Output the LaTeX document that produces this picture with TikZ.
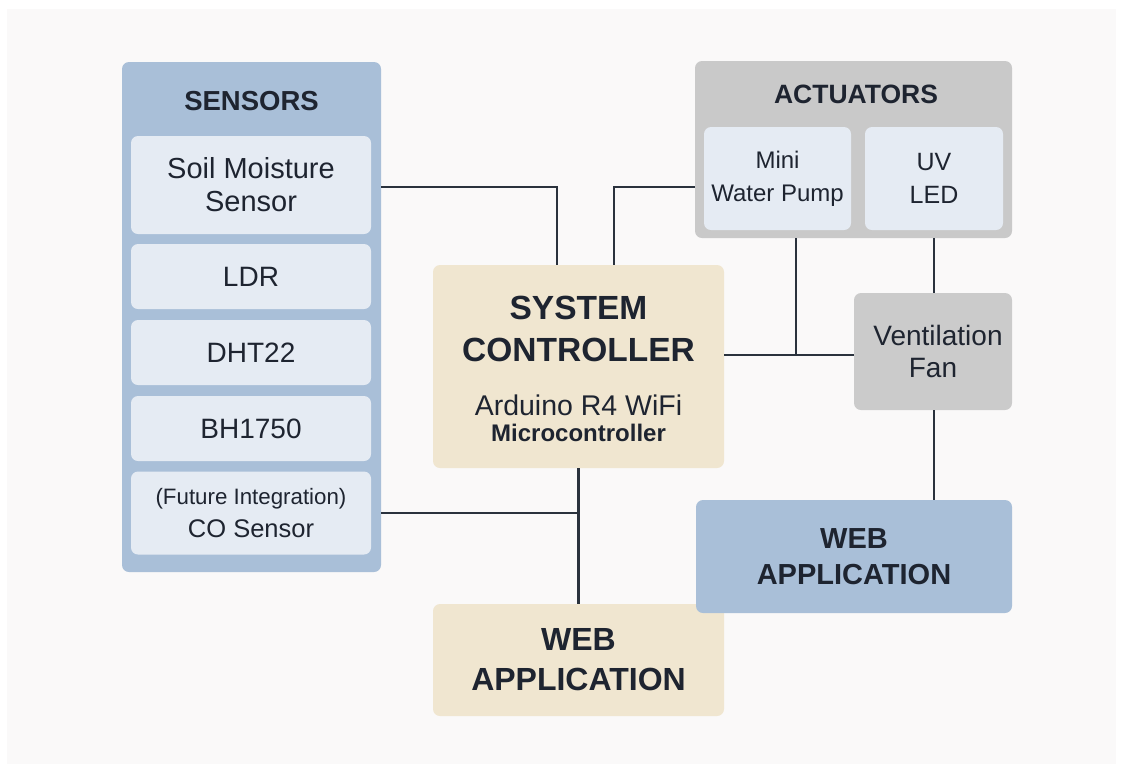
\documentclass[tikz,border=0pt]{standalone}
\usepackage{fontspec}
\setmainfont{Liberation Sans}
\usetikzlibrary{calc}
\definecolor{bgc}{HTML}{FAF9F9}
\definecolor{sblue}{HTML}{A9BFD8}
\definecolor{lightin}{HTML}{E5EBF3}
\definecolor{beige}{HTML}{F0E6D0}
\definecolor{grayA}{HTML}{C9C9C9}
\definecolor{grayF}{HTML}{CBCBCB}
\definecolor{txt}{HTML}{1E2430}
\definecolor{wire}{HTML}{2A323D}
\tikzset{
  boxbase/.style={rectangle, rounded corners=7pt, inner sep=0pt, draw=none, text=txt, align=center},
  grp/.style={boxbase},
  item/.style={boxbase, fill=lightin, minimum width=240, font=\fontsize{28}{33}\selectfont},
  lbl/.style={inner sep=0pt, text=txt, align=center},
  conn/.style={draw=wire, line width=2.8pt}
}
\begin{document}
\begin{tikzpicture}[x=1pt,y=-1pt]
\useasboundingbox (0,0) rectangle (1123,772);
\fill[white] (0,0) rectangle (1123,772);
\fill[bgc] (7,9) rectangle (1116,764);

% Sensors group
\node[grp, fill=sblue, minimum width=259, minimum height=510] (sensors) at (251.5,317) {};
\node[lbl, font=\fontsize{27.5}{30}\selectfont\bfseries] (senstitle) at (251.5,101) {SENSORS};
\node[item, minimum height=98, font=\fontsize{29}{33}\selectfont] (soil) at (251,185) {Soil Moisture\\Sensor};
\node[item, minimum height=65] (ldr) at (251,276.5) {LDR};
\node[item, minimum height=65] (dht) at (251,352.5) {DHT22};
\node[item, minimum height=65] (bh) at (251,428.5) {BH1750};
\node[item, minimum height=83] (co) at (251,513) {{\fontsize{22.3}{29}\selectfont (Future Integration)}\\{\fontsize{25.5}{29}\selectfont CO Sensor}};

% System controller
\node[grp, fill=beige, minimum width=291, minimum height=203] (ctrl) at (578.5,366.5) {};
\node[lbl, font=\fontsize{33.5}{42}\selectfont\bfseries] (ctrltitle) at (578.5,329) {SYSTEM\\CONTROLLER};
\node[lbl, font=\fontsize{28.5}{28}\selectfont] (ctrlsub) at (578.5,405) {Arduino R4 WiFi};
\node[lbl, font=\fontsize{24}{28}\selectfont\bfseries] (ctrlsub2) at (578.5,433) {Microcontroller};

% Web application (bottom)
\node[grp, fill=beige, minimum width=291, minimum height=112, font=\fontsize{32}{40}\selectfont\bfseries] (webb) at (578.5,660) {WEB\\APPLICATION};

% Actuators group
\node[grp, fill=grayA, minimum width=317, minimum height=177] (act) at (853.5,149.5) {};
\node[lbl, font=\fontsize{26.5}{30}\selectfont\bfseries] (acttitle) at (856,94) {ACTUATORS};
\node[boxbase, fill=lightin, minimum width=147, minimum height=103, font=\fontsize{24}{33}\selectfont] (pump) at (777.5,178.5) {Mini\\Water Pump};
\node[boxbase, fill=lightin, minimum width=138, minimum height=103, font=\fontsize{25}{33}\selectfont] (uv) at (934,178.5) {UV\\LED};

% Ventilation fan
\node[boxbase, fill=grayF, minimum width=158, minimum height=117, font=\fontsize{28}{32}\selectfont] (fan) at (933,351.5) {\hspace*{10pt}Ventilation\\Fan};

% Web application (right)
\node[grp, fill=sblue, minimum width=316, minimum height=113, font=\fontsize{29}{36}\selectfont\bfseries] (webr) at (854,556.5) {WEB\\APPLICATION};

% Connectors
\coordinate (j1) at (796,355);
\draw[conn] ($(sensors.east|-soil.east)+(0,2)$) -| ($(ctrl.north)+(-21.5,0)$);
\draw[conn] ($(ctrl.north)+(35.5,0)$) |- ($(act.west)+(0,37.5)$);
\draw[conn] (ctrl.east|-j1) -- (fan.west|-j1);
\draw[conn] (act.south-|j1) -- (j1);
\draw[conn] (uv.south|-act.south) -- (fan.north-|uv.south);
\draw[conn] (fan.south-|uv.south) -- (webr.north-|uv.south);
\draw[conn] (ctrl.south) -- (webb.north);
\draw[conn] (sensors.east|-co.east) -- (ctrl.south|-co.east);
\end{tikzpicture}
\end{document}
